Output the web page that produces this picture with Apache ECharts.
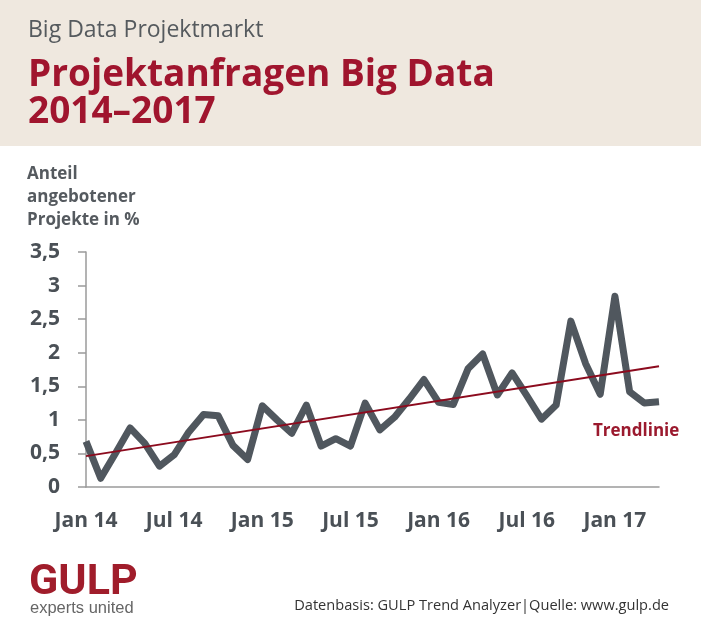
<!DOCTYPE html>
<html>
<head>
<meta charset="utf-8">
<script src="https://cdn.jsdelivr.net/npm/echarts@6/dist/echarts.min.js"></script>
<style>
  html, body { margin: 0; padding: 0; background: #fff; }
  #chart { width: 701px; height: 630px; }
</style>
</head>
<body>
<div id="chart"></div>
<script>
// monthly categories Jan 14 .. Apr 17
const months = [
  'Jan 14', 'Feb 14', 'Mär 14', 'Apr 14', 'Mai 14', 'Jun 14', 'Jul 14', 'Aug 14', 'Sep 14', 'Okt 14', 'Nov 14', 'Dez 14',
  'Jan 15', 'Feb 15', 'Mär 15', 'Apr 15', 'Mai 15', 'Jun 15', 'Jul 15', 'Aug 15', 'Sep 15', 'Okt 15', 'Nov 15', 'Dez 15',
  'Jan 16', 'Feb 16', 'Mär 16', 'Apr 16', 'Mai 16', 'Jun 16', 'Jul 16', 'Aug 16', 'Sep 16', 'Okt 16', 'Nov 16', 'Dez 16',
  'Jan 17', 'Feb 17', 'Mär 17', 'Apr 17'
];
// share of offered projects in %
const anteil = [
  0.68, 0.13, 0.50, 0.88, 0.65, 0.31, 0.48, 0.82, 1.08, 1.06, 0.62, 0.41,
  1.21, 1.00, 0.80, 1.22, 0.61, 0.72, 0.61, 1.25, 0.85, 1.04, 1.31, 1.60,
  1.26, 1.23, 1.76, 1.98, 1.37, 1.70, 1.36, 1.01, 1.22, 2.47, 1.84, 1.38,
  2.84, 1.42, 1.25, 1.27
];
// trend line end points (first and last month)
const trendStart = 0.46;
const trendEnd = 1.80;
const yTicks = [0, 0.5, 1, 1.5, 2, 2.5, 3, 3.5];

const chart = echarts.init(document.getElementById('chart'), null, { renderer: 'canvas' });

const font = '"Open Sans", sans-serif';
const red = '#a0152e';
const grey = '#50575e';

chart.setOption({
  backgroundColor: '#ffffff',
  animation: false,
  grid: { left: 86, right: 42, top: 252, bottom: 143 },
  xAxis: {
    type: 'category',
    data: months,
    boundaryGap: false,
    axisLine: { lineStyle: { color: '#9a9a9a', width: 1.5 } },
    axisTick: { show: false },
    axisLabel: {
      interval: 5,
      margin: 24,
      color: '#4a5056',
      fontFamily: font,
      fontWeight: 'bold',
      fontSize: 21
    },
    splitLine: { show: false }
  },
  yAxis: {
    type: 'value',
    min: yTicks[0],
    max: yTicks[yTicks.length - 1],
    interval: 0.5,
    axisLine: { show: true, lineStyle: { color: '#9a9a9a', width: 1.5 } },
    axisTick: { show: true, length: 8, lineStyle: { color: '#9a9a9a', width: 1.5 } },
    axisLabel: {
      margin: 26,
      color: '#4a5056',
      fontFamily: font,
      fontWeight: 'bold',
      fontSize: 21,
      formatter: v => String(v).replace('.', ',')
    },
    splitLine: { show: false }
  },
  series: [
    {
      type: 'line',
      data: anteil,
      symbol: 'none',
      lineStyle: { color: grey, width: 7, join: 'round' },
      z: 2
    },
    {
      type: 'line',
      data: months.map((m, i) => i === 0 ? trendStart : (i === months.length - 1 ? trendEnd : null)),
      connectNulls: true,
      symbol: 'none',
      lineStyle: { color: '#8c0b1e', width: 2 },
      z: 3
    }
  ],
  graphic: [
    { type: 'rect', left: 0, top: 0, shape: { width: 701, height: 146 }, style: { fill: '#efe8df' }, silent: true },
    { type: 'text', left: 28, top: 19, style: { text: 'Big Data Projektmarkt', fill: '#555a5e', font: '23px ' + font } },
    { type: 'text', left: 28, top: 57, style: { text: 'Projektanfragen Big Data\n2014–2017', fill: red, font: 'bold 37px ' + font, lineHeight: 37 } },
    { type: 'text', left: 27, top: 163, style: { text: 'Anteil\nangebotener\nProjekte in %', fill: '#555a5f', font: 'bold 17px ' + font, lineHeight: 23 } },
    { type: 'text', left: 593, top: 423, style: { text: 'Trendlinie', fill: '#9b1a2e', font: 'bold 17px ' + font } },
    { type: 'text', left: 29, top: 562, style: { text: 'GULP', fill: '#a01d2b', font: 'bold 43px "Liberation Sans Narrow", "Roboto", sans-serif' } },
    { type: 'text', left: 30, top: 600, style: { text: 'experts united', fill: '#666666', font: '16.5px "Liberation Sans Narrow", sans-serif' } },
    { type: 'text', right: 32, top: 598, style: { text: 'Datenbasis: GULP Trend Analyzer|Quelle: www.gulp.de', fill: '#333333', font: '14.6px ' + font } }
  ]
});
</script>
</body>
</html>
